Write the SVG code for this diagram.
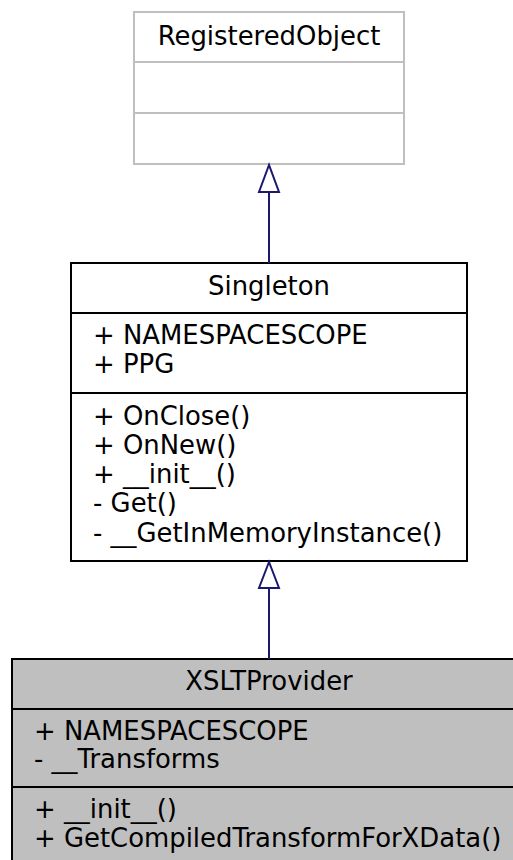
<svg xmlns="http://www.w3.org/2000/svg" width="513" height="860" viewBox="0 0 513 860">
<style>
text{font-family:"DejaVu Sans",sans-serif;font-size:25.9px;fill:#000}
.t{text-anchor:middle}
.box{stroke:#000;stroke-width:2;fill:#fff}
.grey{stroke:#bfbfbf;stroke-width:2;fill:#fff}
.cur{stroke:#000;stroke-width:2;fill:#bfbfbf}
.edge{stroke:#191970;stroke-width:2;fill:none}
.head{stroke:#191970;stroke-width:2;fill:#fff}
</style>
<rect width="513" height="860" fill="#fff"/>
<g id="RegisteredObject">
<rect class="grey" x="134" y="12" width="270" height="152"/>
<line class="grey" x1="134" y1="62" x2="404" y2="62"/>
<line class="grey" x1="134" y1="113" x2="404" y2="113"/>
<text class="t" x="269" y="45">RegisteredObject</text>
</g>
<g id="Singleton">
<rect class="box" x="71" y="263" width="396" height="298"/>
<line class="box" x1="71" y1="313" x2="467" y2="313"/>
<line class="box" x1="71" y1="393" x2="467" y2="393"/>
<text class="t" x="269" y="295">Singleton</text>
<text x="93" y="344">+ NAMESPACESCOPE</text>
<text x="93" y="373">+ PPG</text>
<text x="93" y="425">+ OnClose()</text>
<text x="93" y="454">+ OnNew()</text>
<text x="93" y="483">+ __init__()</text>
<text x="93" y="512">- Get()</text>
<text x="93" y="542">- __GetInMemoryInstance()</text>
</g>
<g id="XSLTProvider">
<rect class="cur" x="12" y="659" width="514" height="220"/>
<line class="cur" x1="12" y1="709" x2="526" y2="709"/>
<line class="cur" x1="12" y1="787" x2="526" y2="787"/>
<text class="t" x="269" y="690">XSLTProvider</text>
<text x="34" y="740">+ NAMESPACESCOPE</text>
<text x="34" y="768">- __Transforms</text>
<text x="34" y="818">+ __init__()</text>
<text x="34" y="847">+ GetCompiledTransformForXData()</text>
</g>
<g id="connectors">
<line class="edge" x1="269" y1="192" x2="269" y2="263"/>
<polygon class="head" points="269,165 259,192 279,192"/>
<line class="edge" x1="269" y1="588" x2="269" y2="659"/>
<polygon class="head" points="269,562 259,588 279,588"/>
</g>
</svg>
